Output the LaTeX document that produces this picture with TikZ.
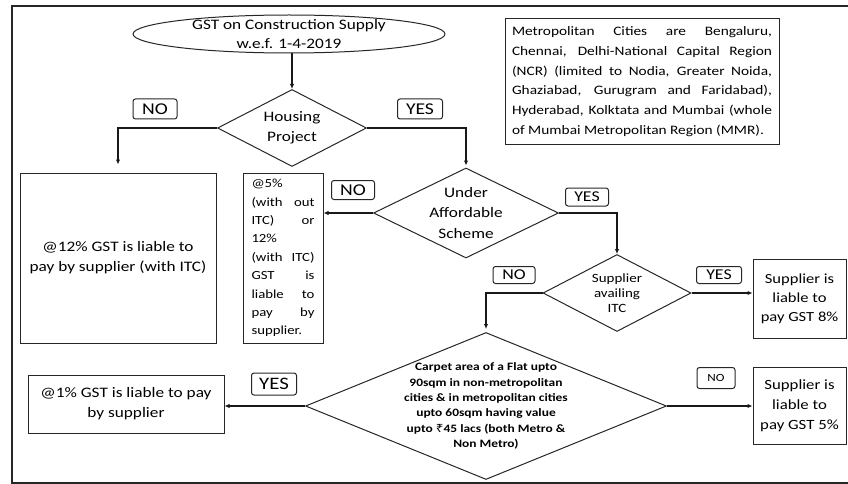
\documentclass[tikz,border=0pt]{standalone}
\usepackage{fontspec}
\setmainfont{Carlito}[FakeStretch=1.19]
\newfontfamily\rupeefont{Noto Sans}[FakeStretch=1.19]
\usetikzlibrary{arrows.meta,positioning,shapes.geometric}
\newcommand{\jl}[2]{\makebox[#1][s]{#2}}
\newcommand{\fs}[2]{\fontsize{#1}{#2}\selectfont}

\begin{document}
\begin{tikzpicture}[x=1pt, y=-1pt, >={Latex[length=5pt,width=4.5pt]},
  every node/.style={text=black},
  box/.style={draw=black!85, line width=1pt, inner sep=0pt, align=center, font=\fs{14.5}{20}},
  dia/.style={draw=black!85, line width=1pt, diamond, inner sep=0pt},
  tag/.style={draw=black!85, line width=1pt, rounded corners=2.5pt, inner sep=0pt, font=\fs{16.5}{18}},
  link/.style={->, line width=1.2pt, draw=black!90}]
\useasboundingbox (0,0) rectangle (848,484);
\draw[line width=2.2pt, black!85] (12,6) rectangle (852,483);

% start and the three questions
\node[ellipse, draw=black!85, line width=1pt, minimum width=312pt, minimum height=38pt, inner sep=0pt,
  label={[align=center, font=\fs{14.5}{19}]center:GST on Construction Supply\\w.e.f. 1-4-2019}] (title) at (289,34) {};
\node[dia, minimum width=149pt, minimum height=77pt,
  label={[align=center, font=\fs{14.5}{20}]center:Housing\\Project}] (house) at (292,128) {};
\node[dia, minimum width=185pt, minimum height=90pt,
  label={[align=center, font=\fs{14.5}{20.5}]center:Under\\Affordable\\Scheme}] (under) at (466,213) {};
\node[dia, minimum width=148pt, minimum height=77pt,
  label={[align=center, font=\fs{12.6}{15}]center:Supplier\\availing\\ITC}] (sup) at (617,293) {};
\node[dia, minimum width=361pt, minimum height=147pt,
  label={[align=center, font=\bfseries\fs{11.3}{15.4}]center:Carpet area of a Flat upto\\90sqm in non-metropolitan\\cities \& in metropolitan cities\\upto 60sqm having value\\upto {\rupeefont ₹}45 lacs (both Metro \&\\Non Metro)}] (carpet) at (486,406) {};

% outcomes
\node[box, minimum width=196pt, minimum height=170pt] (b12) at (118,258) {@12\% GST is liable to\\pay by supplier (with ITC)};
\node[box, right=26pt of b12, minimum width=80pt, minimum height=170pt, align=left, font=\fs{12.4}{18.4}] (b5)
  {@5\%\\\jl{63pt}{(with out}\\\jl{63pt}{ITC) or}\\12\%\\\jl{63pt}{(with ITC)}\\\jl{63pt}{GST is}\\\jl{63pt}{liable to}\\\jl{63pt}{pay by}\\supplier.};
\node[box, minimum width=196pt, minimum height=58pt] (b1) at (126,404) {@1\% GST is liable to pay\\by supplier};
\node[box, minimum width=93pt, minimum height=79pt, font=\fs{13.9}{18.8}] (b8) at (799.5,298.5) {Supplier is\\liable to\\pay GST 8\%};
\node[box, below=28pt of b8, minimum width=93pt, minimum height=77pt, font=\fs{14.1}{20}] (b5b) {Supplier is\\liable to\\pay GST 5\%};
\node[box, minimum width=274pt, minimum height=125pt, align=left, font=\fs{12.9}{19.7}] (metro) at (642,81.5)
  {\jl{260pt}{Metropolitan Cities are Bengaluru,}\\\jl{260pt}{Chennai, Delhi-National Capital Region}\\
   \jl{260pt}{(NCR) (limited to Nodia, Greater Noida,}\\\jl{260pt}{Ghaziabad, Gurugram and Faridabad),}\\
   \jl{260pt}{Hyderabad, Kolktata and Mumbai (whole}\\of Mumbai Metropolitan Region (MMR).};

% yes / no tags
\node[tag, minimum width=44pt, minimum height=20pt] (no1) at (155,109) {NO};
\node[tag, minimum width=45pt, minimum height=20pt] (yes1) at (420,109) {YES};
\node[tag, minimum width=43pt, minimum height=19pt] (no2) at (353,190) {NO};
\node[tag, minimum width=43pt, minimum height=18pt, font=\fs{15}{16}] (yes2) at (587,197) {YES};
\node[tag, minimum width=42pt, minimum height=17pt, font=\fs{15}{16}] (no3) at (514,275) {NO};
\node[tag, minimum width=45pt, minimum height=17pt, font=\fs{15}{16}] (yes3) at (719,275) {YES};
\node[tag, minimum width=45pt, minimum height=22pt, font=\fs{17.5}{18}] (yes4) at (274,384) {YES};
\node[tag, minimum width=38pt, minimum height=21pt, font=\fs{11}{12}] (no4) at (716,378) {NO};

% connectors
\draw[link] (title.south -| house) -- (house.north);
\draw[link] (house.west) -| ([yshift=8pt]b12.north);
\draw[link] (house.east) -| ([yshift=2pt]under.north);
\draw[link] (under.west) -- (under.west -| b5.east);
\draw[link] (under.east) -| (sup.north);
\draw[link] (sup.east) -- (sup.east -| b8.west);
\draw[link] (sup.west) -| ([yshift=3pt]carpet.north);
\draw[link] (carpet.west) -- (carpet.west -| b1.east);
\draw[link] (carpet.east) -- (carpet.east -| b5b.west);
\end{tikzpicture}
\end{document}
